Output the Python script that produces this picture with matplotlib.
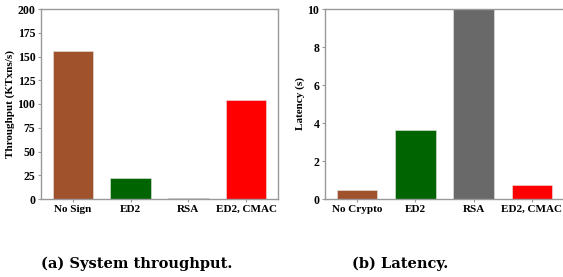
import numpy as np
import matplotlib
matplotlib.use('Agg')
import matplotlib.pyplot as plt

# data
tput_labels = ['No Sign', 'ED2', 'RSA', 'ED2, CMAC']
tput_values = [156, 22, 1.5, 104]
lat_labels = ['No Crypto', 'ED2', 'RSA', 'ED2, CMAC']
lat_values = [0.5, 3.65, 12, 0.75]
colors = ['sienna', 'darkgreen', 'dimgray', 'red']

plt.rcParams['font.family'] = 'Liberation Serif'
plt.rcParams['font.weight'] = 'bold'

fig = plt.figure(figsize=(5.63, 2.77), dpi=100)
W, H = 563.0, 277.0
ax1 = fig.add_axes([41/W, 1-199/H, 237/W, 190/H])
ax2 = fig.add_axes([325/W, 1-199/H, 239/W, 190/H])

def draw(ax, labels, values, ylabel, ylim, yticks):
    x = np.arange(len(labels))
    ax.bar(x, values, width=0.7, color=colors, edgecolor='#e6e6e6', linewidth=0.4)
    ax.set_xlim(-0.55, 3.55)
    ax.set_ylim(*ylim)
    ax.set_yticks(yticks)
    ax.set_xticks(x)
    ax.set_xticklabels(labels, fontsize=8, fontweight='bold')
    ax.set_ylabel(ylabel, fontsize=8, fontweight='bold', labelpad=2)
    for lab in ax.get_yticklabels():
        lab.set_fontsize(8.5)
        lab.set_fontweight('bold')
    for s in ax.spines.values():
        s.set_color('#999999')
        s.set_linewidth(1.0)
    ax.tick_params(axis='both', length=2.5, width=0.8, color='#999999', pad=1.5)

draw(ax1, tput_labels, tput_values, 'Throughput (KTxns/s)', (0, 200), range(0, 201, 25))
draw(ax2, lat_labels, lat_values, 'Latency (s)', (0, 10), range(0, 11, 2))

fig.text(137/W, 1-264/H, '(a) System throughput.', ha='center', va='center',
         fontsize=10.5, fontweight='bold', family='DejaVu Serif')
fig.text(400/W, 1-264/H, '(b) Latency.', ha='center', va='center',
         fontsize=10.5, fontweight='bold', family='DejaVu Serif')

fig.savefig('out.png', dpi=100)
